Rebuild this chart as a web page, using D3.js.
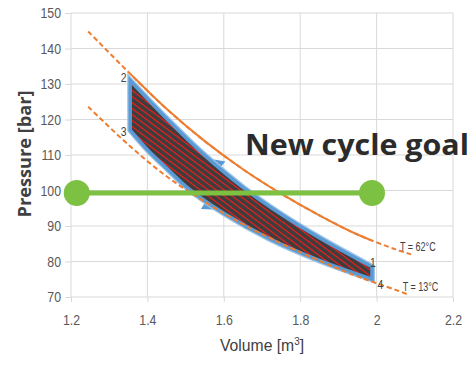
<!DOCTYPE html>
<html>
<head>
<meta charset="utf-8">
<script src="https://cdn.jsdelivr.net/npm/d3@7"></script>
<style>
  body { margin: 0; background: #fff; }
  svg { display: block; }
  .tick text { font-family: "Liberation Sans", sans-serif; font-size: 15px; fill: #595959; }
</style>
</head>
<body>
<div id="chart"></div>
<script>
// axis ticks
const xTicks = [1.2, 1.4, 1.6, 1.8, 2.0, 2.2];
const yTicks = [70, 80, 90, 100, 110, 120, 130, 140, 150];

// isotherm T = 62°C
const hotV = [1.245, 1.35, 1.45, 1.55, 1.65, 1.75, 1.85, 1.95, 2.05, 2.09];
const hotP = [144.8, 133.4, 123.0, 113.9, 106.0, 99.1, 93.0, 87.6, 83.4, 82.0];
// isotherm T = 13°C
const coldV = [1.245, 1.35, 1.45, 1.55, 1.65, 1.75, 1.85, 1.95, 2.05, 2.08];
const coldP = [123.6, 112.9, 104.0, 96.8, 90.5, 85.1, 80.2, 75.8, 72.0, 70.8];

// cycle edges: 1 -> 2 (top) and 3 -> 4 (bottom)
const topV = [1.355, 1.45, 1.55, 1.65, 1.75, 1.85, 1.988];
const topP = [131.0, 120.3, 109.9, 100.9, 93.3, 86.7, 78.5];
const botV = [1.355, 1.40, 1.45, 1.51, 1.60, 1.72, 1.85, 1.988];
const botP = [117.0, 111.5, 106.3, 100.3, 93.6, 86.4, 80.3, 75.0];

// cycle point labels
const pointNames = ["1", "2", "3", "4"];
const pointV = [1.99, 1.338, 1.338, 2.01];
const pointP = [78.4, 130.6, 115.4, 72.2];

// arrows on cycle edges
const arrowV = [1.577, 1.566];

// isotherm labels
const isoNames = ["T = 62°C", "T = 13°C"];
const isoLabelV = [2.108, 2.115];
const isoLabelP = [83.0, 71.8];

// new cycle goal line
const goalV = [1.215, 1.988];
const goalP = 99.3;

const width = 473, height = 365;
const x = d3.scaleLinear().domain([1.2, 2.2]).range([71, 453]);
const y = d3.scaleLinear().domain([70, 150]).range([297, 13]);

const narrowFont = "Liberation Sans, sans-serif";

const svg = d3.select("#chart").append("svg")
  .attr("width", width)
  .attr("height", height);

// squeeze text horizontally, the original uses a narrow font
function condense(sel, k) {
  sel.each(function () {
    const len = this.getComputedTextLength();
    d3.select(this).attr("textLength", len * k).attr("lengthAdjust", "spacingAndGlyphs");
  });
}

const defs = svg.append("defs");
const pat = defs.append("pattern")
  .attr("id", "hatch")
  .attr("patternUnits", "userSpaceOnUse")
  .attr("width", 10)
  .attr("height", 4.8)
  .attr("patternTransform", "rotate(37)");
pat.append("rect").attr("width", 10).attr("height", 4.8).attr("fill", "#3d3d3d");
pat.append("line")
  .attr("x1", 0).attr("x2", 10)
  .attr("y1", 2.4).attr("y2", 2.4)
  .attr("stroke", "#ff1a1a")
  .attr("stroke-width", 1.1);

defs.append("clipPath").attr("id", "solidPart")
  .append("rect")
  .attr("x", x(1.355)).attr("y", 0)
  .attr("width", x(1.99) - x(1.355)).attr("height", height);

// grid
svg.append("g")
  .selectAll("line")
  .data(xTicks)
  .join("line")
  .attr("x1", d => x(d)).attr("x2", d => x(d))
  .attr("y1", y(150)).attr("y2", y(70))
  .attr("stroke", "#d9d9d9");
svg.append("g")
  .selectAll("line")
  .data(yTicks)
  .join("line")
  .attr("x1", x(1.2)).attr("x2", x(2.2))
  .attr("y1", d => y(d)).attr("y2", d => y(d))
  .attr("stroke", "#d9d9d9");

// axes
const xAxis = svg.append("g")
  .attr("transform", `translate(0,${y(70)})`)
  .call(d3.axisBottom(x).tickValues(xTicks).tickSize(5).tickPadding(12).tickFormat(d3.format("~g")));
const yAxis = svg.append("g")
  .attr("transform", `translate(${x(1.2)},0)`)
  .call(d3.axisLeft(y).tickValues(yTicks).tickSize(6).tickPadding(4));
[xAxis, yAxis].forEach(g => {
  g.select(".domain").remove();
  g.selectAll(".tick line").attr("stroke", "#d9d9d9");
  condense(g.selectAll(".tick text"), 0.82);
});

const line = d3.line()
  .x(d => x(d[0]))
  .y(d => y(d[1]))
  .curve(d3.curveCatmullRom);

const hot = hotV.map((v, i) => [v, hotP[i]]);
const cold = coldV.map((v, i) => [v, coldP[i]]);

// isotherms
svg.append("path")
  .attr("d", line(hot))
  .attr("fill", "none")
  .attr("stroke", "#ed7d31")
  .attr("stroke-width", 2)
  .attr("stroke-dasharray", "5,3");
svg.append("path")
  .attr("d", line(hot))
  .attr("clip-path", "url(#solidPart)")
  .attr("fill", "none")
  .attr("stroke", "#ed7d31")
  .attr("stroke-width", 2);

// arrows (drawn first, the cycle covers their inner half)
const topPts = topV.map((v, i) => [v, topP[i]]);
const botPts = botV.map((v, i) => [v, botP[i]]);
const topPath = svg.append("path").attr("d", line(topPts)).attr("fill", "none").attr("stroke", "none");
const botPath = svg.append("path").attr("d", line(botPts)).attr("fill", "none").attr("stroke", "none");

function arrowAt(pathEl, v, dir) {
  const node = pathEl.node();
  const total = node.getTotalLength();
  let lo = 0, hi = total;
  for (let k = 0; k < 30; k++) {
    const mid = (lo + hi) / 2;
    if (node.getPointAtLength(mid).x < x(v)) lo = mid; else hi = mid;
  }
  const p = node.getPointAtLength(lo);
  const q = node.getPointAtLength(Math.min(total, lo + 2));
  let ang = Math.atan2(q.y - p.y, q.x - p.x) * 180 / Math.PI;
  if (dir < 0) ang += 180;
  svg.append("path")
    .attr("d", "M9,0L-6,-9L-6,9Z")
    .attr("transform", `translate(${p.x},${p.y}) rotate(${ang})`)
    .attr("fill", "#5b9bd5");
}
arrowAt(topPath, arrowV[0], -1);
arrowAt(botPath, arrowV[1], 1);

// cycle
const cyclePath = line(topPts.slice().reverse()) + line(botPts).replace(/^M/, "L") + "Z";
svg.append("path")
  .attr("d", cyclePath)
  .attr("fill", "none")
  .attr("stroke", "#9dc3e6")
  .attr("stroke-width", 6)
  .attr("stroke-linejoin", "miter");
svg.append("path")
  .attr("d", cyclePath)
  .attr("fill", "url(#hatch)")
  .attr("stroke", "#5b9bd5")
  .attr("stroke-width", 3.5)
  .attr("stroke-linejoin", "miter");

// cold isotherm on top, dashed
svg.append("path")
  .attr("d", line(cold))
  .attr("fill", "none")
  .attr("stroke", "#ed7d31")
  .attr("stroke-width", 2)
  .attr("stroke-dasharray", "5,3");

// point labels
svg.append("g")
  .selectAll("text")
  .data(pointNames)
  .join("text")
  .attr("x", (d, i) => x(pointV[i]))
  .attr("y", (d, i) => y(pointP[i]))
  .attr("text-anchor", "middle")
  .attr("font-family", narrowFont)
  .attr("font-size", 13)
  .attr("fill", "#404040")
  .text(d => d)
  .call(condense, 0.8);

// isotherm labels
svg.append("g")
  .selectAll("text")
  .data(isoNames)
  .join("text")
  .attr("x", (d, i) => x(isoLabelV[i]))
  .attr("y", (d, i) => y(isoLabelP[i]))
  .attr("text-anchor", "middle")
  .attr("font-family", narrowFont)
  .attr("font-size", 12)
  .attr("fill", "#404040")
  .text(d => d)
  .call(condense, 0.75);

// goal line
svg.append("line")
  .attr("x1", x(goalV[0])).attr("x2", x(goalV[1]))
  .attr("y1", y(goalP)).attr("y2", y(goalP))
  .attr("stroke", "#7cc142")
  .attr("stroke-width", 5);
svg.append("g")
  .selectAll("circle")
  .data(goalV)
  .join("circle")
  .attr("cx", d => x(d))
  .attr("cy", y(goalP))
  .attr("r", 13)
  .attr("fill", "#7cc142");

svg.append("text")
  .attr("x", 245)
  .attr("y", 155)
  .attr("font-family", "Open Sans, sans-serif")
  .attr("font-weight", "bold")
  .attr("font-size", 29)
  .attr("textLength", 224)
  .attr("lengthAdjust", "spacingAndGlyphs")
  .attr("fill", "#2b2b2b")
  .text("New cycle goal");

// axis titles
svg.append("text")
  .attr("transform", "translate(31,154) rotate(-90)")
  .attr("text-anchor", "middle")
  .attr("font-family", "Open Sans, sans-serif")
  .attr("font-weight", "bold")
  .attr("font-size", 17)
  .attr("textLength", 127)
  .attr("lengthAdjust", "spacingAndGlyphs")
  .attr("fill", "#404040")
  .text("Pressure [bar]");

const xt = svg.append("text")
  .attr("x", 262)
  .attr("y", 351)
  .attr("text-anchor", "middle")
  .attr("font-family", narrowFont)
  .attr("font-size", 16)
  .attr("textLength", 84)
  .attr("lengthAdjust", "spacingAndGlyphs")
  .attr("fill", "#404040");
xt.append("tspan").text("Volume [m");
xt.append("tspan").attr("dy", -6).attr("font-size", 10).text("3");
xt.append("tspan").attr("dy", 6).text("]");
</script>
</body>
</html>
